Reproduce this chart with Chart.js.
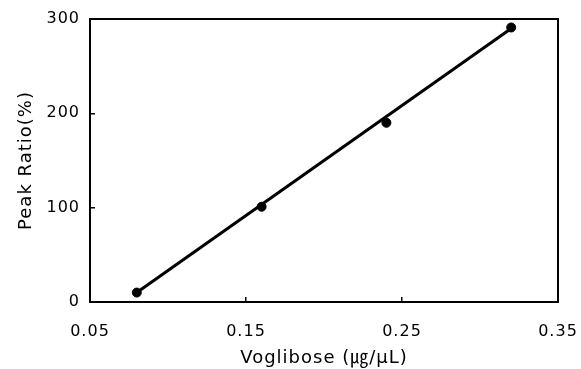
<!DOCTYPE html>
<html>
<head>
<meta charset="utf-8">
<script src="https://cdn.jsdelivr.net/npm/chart.js@4"></script>
<style>
  html, body { margin: 0; padding: 0; background: #fff; }
  #wrap { width: 581px; height: 369px; }
</style>
</head>
<body>
<div id="wrap"><canvas id="chart" width="581" height="369"></canvas></div>
<script>
// 数据
const concValues = [0.08, 0.16, 0.24, 0.32];
const ratioValues = [10, 101, 190, 291];
// 回归直线端点
const fitX = [0.08, 0.32];
const fitY = [10, 290];
// 刻度
const xTicks = [0.05, 0.15, 0.25, 0.35];
const yTicks = [0, 100, 200, 300];

const xTitle = 'Voglibose (\u338D/\u03BCL)';
const yTitle = 'Peak Ratio(%)';

// 外框
const framePlugin = {
    id: 'frame',
    beforeDraw: function(chart) {
        chart.ctx.letterSpacing = '1px';
    },
    afterDraw: function(chart) {
        const a = chart.chartArea;
        const ctx = chart.ctx;
        ctx.save();
        ctx.strokeStyle = '#000';
        ctx.lineWidth = 2;
        ctx.strokeRect(a.left, a.top, a.right - a.left, a.bottom - a.top);
        ctx.restore();
    }
};

const tickFont = { family: 'DejaVu Sans', size: 16 };
const titleFamily = '"DejaVu Sans", "Noto Sans CJK KR"';

new Chart(document.getElementById('chart').getContext('2d'), {
    type: 'scatter',
    data: {
        datasets: [
            {
                label: 'fit',
                data: fitX.map((x, i) => ({ x: x, y: fitY[i] })),
                showLine: true,
                borderColor: '#000',
                borderWidth: 3,
                pointRadius: 0,
                order: 2
            },
            {
                label: 'data',
                data: concValues.map((x, i) => ({ x: x, y: ratioValues[i] })),
                backgroundColor: '#000',
                borderColor: '#000',
                pointRadius: 4.5,
                order: 1
            }
        ]
    },
    options: {
        responsive: false,
        animation: false,
        layout: { padding: { top: 19, right: 23, left: 0, bottom: 0 } },
        plugins: {
            legend: { display: false },
            tooltip: { enabled: false }
        },
        scales: {
            x: {
                type: 'linear',
                min: 0.05,
                max: 0.35,
                afterBuildTicks: function(scale) {
                    scale.ticks = xTicks.map(v => ({ value: v }));
                },
                afterFit: function(scale) {
                    scale.height = 67;
                    scale.paddingLeft = 0;
                    scale.paddingRight = 0;
                },
                grid: { drawOnChartArea: false, tickLength: -5, color: '#000', lineWidth: 1.5 },
                border: { display: false },
                ticks: {
                    color: '#000',
                    font: tickFont,
                    padding: 25,
                    maxRotation: 0,
                    callback: function(v) { return v.toFixed(2); }
                },
                title: {
                    display: true,
                    text: xTitle,
                    color: '#000',
                    font: { family: titleFamily, size: 18 },
                    padding: { top: 2, bottom: 0 }
                }
            },
            y: {
                min: 0,
                max: 300,
                afterBuildTicks: function(scale) {
                    scale.ticks = yTicks.map(v => ({ value: v }));
                },
                afterFit: function(scale) {
                    scale.width = 90;
                    scale.paddingTop = 0;
                    scale.paddingBottom = 0;
                },
                grid: { drawOnChartArea: false, tickLength: -5, color: '#000', lineWidth: 1.5 },
                border: { display: false },
                ticks: {
                    color: '#000',
                    font: tickFont,
                    padding: 15
                },
                title: {
                    display: true,
                    text: yTitle,
                    color: '#000',
                    font: { family: titleFamily, size: 18 },
                    padding: { top: 16, bottom: 0 }
                }
            }
        }
    },
    plugins: [framePlugin]
});
</script>
</body>
</html>
